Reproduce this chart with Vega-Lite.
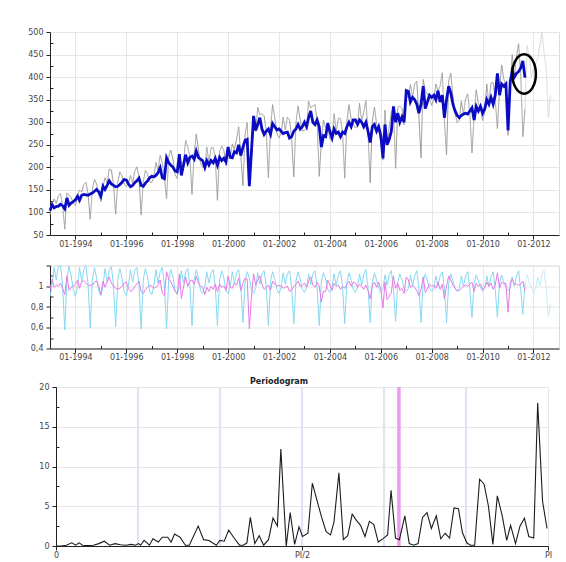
{
  "$schema": "https://vega.github.io/schema/vega-lite/v6.json",
  "padding": {"left": 27, "top": 27, "right": 0, "bottom": 0},
  "spacing": 11.5,
  "resolve": {"scale": {"color": "independent", "strokeDash": "independent"}},
  "config": {
    "font": "DejaVu Sans",
    "view": {"stroke": "#dcdcdc"},
    "axis": {
      "labelFont": "DejaVu Sans",
      "labelFontSize": 8,
      "labelColor": "#444444",
      "domainColor": "#222222",
      "tickColor": "#222222",
      "gridColor": "#e6e6e6",
      "title": null,
      "labelOverlap": false,
      "labelFlush": false
    }
  },
  "datasets": {
    "ts": [
      {"m":"1993-01","o":94,"s":104,"f":0.90,"i":0.96},{"m":"1993-02","o":119,"s":117,"f":1.02,"i":1.07},{"m":"1993-03","o":130,"s":110,"f":1.18,"i":0.99},{"m":"1993-04","o":120,"s":113,"f":1.06,"i":1.01},{"m":"1993-05","o":136,"s":114,"f":1.19,"i":1.00},{"m":"1993-06","o":142,"s":118,"f":1.20,"i":1.03},{"m":"1993-07","o":115,"s":115,"f":1.00,"i":0.98},{"m":"1993-08","o":63,"s":108,"f":0.58,"i":0.92},{"m":"1993-09","o":143,"s":132,"f":1.08,"i":1.10},{"m":"1993-10","o":138,"s":116,"f":1.19,"i":0.96},{"m":"1993-11","o":133,"s":121,"f":1.10,"i":0.99},{"m":"1993-12","o":120,"s":124,"f":0.97,"i":1.00},
      {"m":"1994-01","o":115,"s":128,"f":0.90,"i":1.02},{"m":"1994-02","o":136,"s":136,"f":1.00,"i":1.06},{"m":"1994-03","o":150,"s":127,"f":1.18,"i":0.98},{"m":"1994-04","o":145,"s":138,"f":1.05,"i":1.05},{"m":"1994-05","o":162,"s":140,"f":1.16,"i":1.05},{"m":"1994-06","o":167,"s":139,"f":1.20,"i":1.03},{"m":"1994-07","o":141,"s":138,"f":1.02,"i":1.01},{"m":"1994-08","o":85,"s":141,"f":0.60,"i":1.01},{"m":"1994-09","o":152,"s":143,"f":1.06,"i":1.01},{"m":"1994-10","o":173,"s":147,"f":1.18,"i":1.04},{"m":"1994-11","o":163,"s":151,"f":1.08,"i":1.05},{"m":"1994-12","o":139,"s":146,"f":0.95,"i":1.00},
      {"m":"1995-01","o":124,"s":136,"f":0.91,"i":0.92},{"m":"1995-02","o":158,"s":158,"f":1.00,"i":1.05},{"m":"1995-03","o":177,"s":151,"f":1.17,"i":0.99},{"m":"1995-04","o":166,"s":160,"f":1.04,"i":1.04},{"m":"1995-05","o":196,"s":170,"f":1.15,"i":1.09},{"m":"1995-06","o":194,"s":163,"f":1.19,"i":1.03},{"m":"1995-07","o":162,"s":160,"f":1.01,"i":1.00},{"m":"1995-08","o":96,"s":157,"f":0.61,"i":0.98},{"m":"1995-09","o":167,"s":158,"f":1.06,"i":0.97},{"m":"1995-10","o":190,"s":162,"f":1.17,"i":0.98},{"m":"1995-11","o":180,"s":167,"f":1.08,"i":1.00},{"m":"1995-12","o":164,"s":173,"f":0.95,"i":1.03},
      {"m":"1996-01","o":157,"s":172,"f":0.91,"i":1.04},{"m":"1996-02","o":165,"s":163,"f":1.01,"i":0.98},{"m":"1996-03","o":182,"s":157,"f":1.16,"i":0.95},{"m":"1996-04","o":166,"s":160,"f":1.04,"i":0.96},{"m":"1996-05","o":191,"s":166,"f":1.15,"i":1.00},{"m":"1996-06","o":201,"s":170,"f":1.18,"i":1.02},{"m":"1996-07","o":180,"s":176,"f":1.02,"i":1.05},{"m":"1996-08","o":94,"s":160,"f":0.59,"i":0.95},{"m":"1996-09","o":169,"s":158,"f":1.07,"i":0.93},{"m":"1996-10","o":193,"s":165,"f":1.17,"i":0.97},{"m":"1996-11","o":185,"s":170,"f":1.09,"i":0.99},{"m":"1996-12","o":168,"s":177,"f":0.95,"i":1.01},
      {"m":"1997-01","o":166,"s":180,"f":0.92,"i":1.00},{"m":"1997-02","o":181,"s":179,"f":1.01,"i":0.98},{"m":"1997-03","o":211,"s":182,"f":1.16,"i":0.99},{"m":"1997-04","o":194,"s":188,"f":1.03,"i":1.01},{"m":"1997-05","o":227,"s":199,"f":1.14,"i":1.06},{"m":"1997-06","o":209,"s":177,"f":1.18,"i":0.93},{"m":"1997-07","o":177,"s":175,"f":1.01,"i":0.91},{"m":"1997-08","o":130,"s":221,"f":0.59,"i":1.14},{"m":"1997-09","o":225,"s":210,"f":1.07,"i":1.07},{"m":"1997-10","o":238,"s":205,"f":1.16,"i":1.04},{"m":"1997-11","o":218,"s":200,"f":1.09,"i":1.00},{"m":"1997-12","o":184,"s":192,"f":0.96,"i":0.95},
      {"m":"1998-01","o":175,"s":190,"f":0.92,"i":0.93},{"m":"1998-02","o":229,"s":229,"f":1.00,"i":1.12},{"m":"1998-03","o":209,"s":182,"f":1.15,"i":0.88},{"m":"1998-04","o":211,"s":205,"f":1.03,"i":0.99},{"m":"1998-05","o":260,"s":228,"f":1.14,"i":1.09},{"m":"1998-06","o":246,"s":210,"f":1.17,"i":1.00},{"m":"1998-07","o":224,"s":222,"f":1.01,"i":1.05},{"m":"1998-08","o":140,"s":225,"f":0.62,"i":1.06},{"m":"1998-09","o":231,"s":218,"f":1.06,"i":1.02},{"m":"1998-10","o":274,"s":236,"f":1.16,"i":1.10},{"m":"1998-11","o":240,"s":222,"f":1.08,"i":1.03},{"m":"1998-12","o":209,"s":218,"f":0.96,"i":1.00},
      {"m":"1999-01","o":200,"s":215,"f":0.93,"i":0.99},{"m":"1999-02","o":200,"s":200,"f":1.00,"i":0.92},{"m":"1999-03","o":245,"s":215,"f":1.14,"i":0.99},{"m":"1999-04","o":211,"s":205,"f":1.03,"i":0.95},{"m":"1999-05","o":243,"s":215,"f":1.13,"i":1.00},{"m":"1999-06","o":244,"s":210,"f":1.16,"i":0.97},{"m":"1999-07","o":220,"s":220,"f":1.00,"i":1.02},{"m":"1999-08","o":127,"s":205,"f":0.62,"i":0.95},{"m":"1999-09","o":235,"s":222,"f":1.06,"i":1.02},{"m":"1999-10","o":247,"s":215,"f":1.15,"i":0.99},{"m":"1999-11","o":238,"s":220,"f":1.08,"i":1.00},{"m":"1999-12","o":204,"s":212,"f":0.96,"i":0.96},
      {"m":"2000-01","o":228,"s":245,"f":0.93,"i":1.10},{"m":"2000-02","o":222,"s":222,"f":1.00,"i":0.99},{"m":"2000-03","o":252,"s":221,"f":1.14,"i":0.98},{"m":"2000-04","o":240,"s":235,"f":1.02,"i":1.03},{"m":"2000-05","o":262,"s":232,"f":1.13,"i":1.01},{"m":"2000-06","o":290,"s":250,"f":1.16,"i":1.08},{"m":"2000-07","o":226,"s":226,"f":1.00,"i":0.96},{"m":"2000-08","o":159,"s":245,"f":0.65,"i":1.03},{"m":"2000-09","o":273,"s":260,"f":1.05,"i":1.08},{"m":"2000-10","o":299,"s":262,"f":1.14,"i":1.07},{"m":"2000-11","o":171,"s":158,"f":1.08,"i":0.59},{"m":"2000-12","o":226,"s":235,"f":0.96,"i":0.90},
      {"m":"2001-01","o":292,"s":314,"f":0.93,"i":1.12},{"m":"2001-02","o":279,"s":282,"f":0.99,"i":1.01},{"m":"2001-03","o":333,"s":295,"f":1.13,"i":1.06},{"m":"2001-04","o":316,"s":310,"f":1.02,"i":1.10},{"m":"2001-05","o":319,"s":285,"f":1.12,"i":1.02},{"m":"2001-06","o":314,"s":273,"f":1.15,"i":0.97},{"m":"2001-07","o":280,"s":280,"f":1.00,"i":0.99},{"m":"2001-08","o":177,"s":285,"f":0.62,"i":1.01},{"m":"2001-09","o":287,"s":273,"f":1.05,"i":0.96},{"m":"2001-10","o":339,"s":297,"f":1.14,"i":1.05},{"m":"2001-11","o":310,"s":290,"f":1.07,"i":1.02},{"m":"2001-12","o":275,"s":283,"f":0.97,"i":1.00},
      {"m":"2002-01","o":265,"s":285,"f":0.93,"i":1.01},{"m":"2002-02","o":277,"s":280,"f":0.99,"i":1.00},{"m":"2002-03","o":311,"s":275,"f":1.13,"i":0.98},{"m":"2002-04","o":283,"s":277,"f":1.02,"i":0.99},{"m":"2002-05","o":311,"s":278,"f":1.12,"i":1.00},{"m":"2002-06","o":305,"s":265,"f":1.15,"i":0.95},{"m":"2002-07","o":265,"s":268,"f":0.99,"i":0.96},{"m":"2002-08","o":179,"s":280,"f":0.64,"i":1.00},{"m":"2002-09","o":299,"s":285,"f":1.05,"i":1.02},{"m":"2002-10","o":336,"s":295,"f":1.14,"i":1.05},{"m":"2002-11","o":305,"s":285,"f":1.07,"i":1.00},{"m":"2002-12","o":281,"s":290,"f":0.97,"i":1.01},
      {"m":"2003-01","o":282,"s":300,"f":0.94,"i":1.03},{"m":"2003-02","o":287,"s":290,"f":0.99,"i":0.99},{"m":"2003-03","o":347,"s":310,"f":1.12,"i":1.05},{"m":"2003-04","o":332,"s":325,"f":1.02,"i":1.09},{"m":"2003-05","o":336,"s":300,"f":1.12,"i":1.01},{"m":"2003-06","o":339,"s":295,"f":1.15,"i":0.99},{"m":"2003-07","o":302,"s":305,"f":0.99,"i":1.04},{"m":"2003-08","o":180,"s":290,"f":0.62,"i":1.00},{"m":"2003-09","o":257,"s":245,"f":1.05,"i":0.85},{"m":"2003-10","o":305,"s":270,"f":1.13,"i":0.95},{"m":"2003-11","o":287,"s":268,"f":1.07,"i":0.95},{"m":"2003-12","o":289,"s":298,"f":0.97,"i":1.06},
      {"m":"2004-01","o":263,"s":280,"f":0.94,"i":1.01},{"m":"2004-02","o":262,"s":265,"f":0.99,"i":0.96},{"m":"2004-03","o":319,"s":285,"f":1.12,"i":1.03},{"m":"2004-04","o":278,"s":275,"f":1.01,"i":1.00},{"m":"2004-05","o":309,"s":278,"f":1.11,"i":1.01},{"m":"2004-06","o":308,"s":268,"f":1.15,"i":0.97},{"m":"2004-07","o":275,"s":278,"f":0.99,"i":1.00},{"m":"2004-08","o":176,"s":275,"f":0.64,"i":0.98},{"m":"2004-09","o":302,"s":290,"f":1.04,"i":1.02},{"m":"2004-10","o":339,"s":300,"f":1.13,"i":1.05},{"m":"2004-11","o":307,"s":290,"f":1.06,"i":1.00},{"m":"2004-12","o":296,"s":305,"f":0.97,"i":1.04},
      {"m":"2005-01","o":287,"s":305,"f":0.94,"i":1.03},{"m":"2005-02","o":292,"s":295,"f":0.99,"i":0.99},{"m":"2005-03","o":342,"s":305,"f":1.12,"i":1.02},{"m":"2005-04","o":303,"s":300,"f":1.01,"i":1.00},{"m":"2005-05","o":322,"s":290,"f":1.11,"i":0.97},{"m":"2005-06","o":348,"s":300,"f":1.16,"i":1.01},{"m":"2005-07","o":277,"s":280,"f":0.99,"i":0.96},{"m":"2005-08","o":166,"s":255,"f":0.65,"i":0.88},{"m":"2005-09","o":302,"s":290,"f":1.04,"i":1.01},{"m":"2005-10","o":333,"s":295,"f":1.13,"i":1.04},{"m":"2005-11","o":297,"s":280,"f":1.06,"i":0.99},{"m":"2005-12","o":284,"s":290,"f":0.98,"i":1.04},
      {"m":"2006-01","o":254,"s":270,"f":0.94,"i":0.97},{"m":"2006-02","o":216,"s":220,"f":0.98,"i":0.79},{"m":"2006-03","o":327,"s":295,"f":1.11,"i":1.04},{"m":"2006-04","o":252,"s":250,"f":1.01,"i":0.87},{"m":"2006-05","o":291,"s":262,"f":1.11,"i":0.90},{"m":"2006-06","o":322,"s":280,"f":1.15,"i":0.94},{"m":"2006-07","o":332,"s":335,"f":0.99,"i":1.10},{"m":"2006-08","o":198,"s":300,"f":0.66,"i":0.98},{"m":"2006-09","o":333,"s":320,"f":1.04,"i":1.03},{"m":"2006-10","o":336,"s":300,"f":1.12,"i":0.96},{"m":"2006-11","o":331,"s":312,"f":1.06,"i":0.98},{"m":"2006-12","o":294,"s":300,"f":0.98,"i":0.93},
      {"m":"2007-01","o":352,"s":370,"f":0.95,"i":1.09},{"m":"2007-02","o":361,"s":368,"f":0.98,"i":1.06},{"m":"2007-03","o":383,"s":345,"f":1.11,"i":0.99},{"m":"2007-04","o":355,"s":355,"f":1.00,"i":1.01},{"m":"2007-05","o":385,"s":350,"f":1.10,"i":0.99},{"m":"2007-06","o":391,"s":340,"f":1.15,"i":0.96},{"m":"2007-07","o":314,"s":320,"f":0.98,"i":0.91},{"m":"2007-08","o":221,"s":340,"f":0.65,"i":0.97},{"m":"2007-09","o":395,"s":380,"f":1.04,"i":1.09},{"m":"2007-10","o":370,"s":330,"f":1.12,"i":0.94},{"m":"2007-11","o":362,"s":345,"f":1.05,"i":0.98},{"m":"2007-12","o":353,"s":360,"f":0.98,"i":1.02},
      {"m":"2008-01","o":337,"s":355,"f":0.95,"i":1.00},{"m":"2008-02","o":353,"s":360,"f":0.98,"i":1.01},{"m":"2008-03","o":385,"s":350,"f":1.10,"i":0.98},{"m":"2008-04","o":370,"s":370,"f":1.00,"i":1.04},{"m":"2008-05","o":380,"s":345,"f":1.10,"i":0.97},{"m":"2008-06","o":410,"s":360,"f":1.14,"i":1.02},{"m":"2008-07","o":304,"s":310,"f":0.98,"i":0.88},{"m":"2008-08","o":228,"s":350,"f":0.65,"i":1.00},{"m":"2008-09","o":391,"s":380,"f":1.03,"i":1.10},{"m":"2008-10","o":409,"s":365,"f":1.12,"i":1.06},{"m":"2008-11","o":357,"s":340,"f":1.05,"i":1.01},{"m":"2008-12","o":319,"s":325,"f":0.98,"i":0.98},
      {"m":"2009-01","o":299,"s":315,"f":0.95,"i":0.96},{"m":"2009-02","o":304,"s":310,"f":0.98,"i":0.96},{"m":"2009-03","o":347,"s":315,"f":1.10,"i":0.98},{"m":"2009-04","o":318,"s":318,"f":1.00,"i":1.00},{"m":"2009-05","o":352,"s":320,"f":1.10,"i":1.01},{"m":"2009-06","o":363,"s":318,"f":1.14,"i":1.00},{"m":"2009-07","o":319,"s":325,"f":0.98,"i":1.02},{"m":"2009-08","o":232,"s":332,"f":0.70,"i":1.04},{"m":"2009-09","o":314,"s":305,"f":1.03,"i":0.95},{"m":"2009-10","o":372,"s":335,"f":1.11,"i":1.03},{"m":"2009-11","o":341,"s":325,"f":1.05,"i":1.00},{"m":"2009-12","o":332,"s":335,"f":0.99,"i":1.02},
      {"m":"2010-01","o":304,"s":320,"f":0.95,"i":0.97},{"m":"2010-02","o":323,"s":330,"f":0.98,"i":0.99},{"m":"2010-03","o":385,"s":350,"f":1.10,"i":1.04},{"m":"2010-04","o":340,"s":340,"f":1.00,"i":1.00},{"m":"2010-05","o":387,"s":355,"f":1.09,"i":1.03},{"m":"2010-06","o":388,"s":340,"f":1.14,"i":0.97},{"m":"2010-07","o":349,"s":360,"f":0.97,"i":1.01},{"m":"2010-08","o":286,"s":408,"f":0.70,"i":1.13},{"m":"2010-09","o":371,"s":360,"f":1.03,"i":0.98},{"m":"2010-10","o":427,"s":385,"f":1.11,"i":1.04},{"m":"2010-11","o":395,"s":380,"f":1.04,"i":1.02},{"m":"2010-12","o":381,"s":385,"f":0.99,"i":1.03},
      {"m":"2011-01","o":271,"s":282,"f":0.96,"i":0.75},{"m":"2011-02","o":382,"s":390,"f":0.98,"i":1.03},{"m":"2011-03","o":450,"s":413,"f":1.09,"i":1.07},{"m":"2011-04","o":400,"s":400,"f":1.00,"i":1.02},{"m":"2011-05","o":445,"s":408,"f":1.09,"i":1.02},{"m":"2011-06","o":474,"s":412,"f":1.15,"i":1.01},{"m":"2011-07","o":407,"s":420,"f":0.97,"i":1.02},{"m":"2011-08","o":268,"s":436,"f":0.73,"i":1.05},{"m":"2011-09","o":329,"s":399,"f":1.02,"i":0.95,"fo":329,"ff":1.02},
      {"m":"2011-10","fo":470,"ff":1.11,"tf":418},{"m":"2011-11","fo":445,"ff":1.04},{"m":"2011-12","fo":400,"ff":0.99},
      {"m":"2012-01","fo":420,"ff":0.93},{"m":"2012-02","fo":430,"ff":0.98},{"m":"2012-03","fo":440,"ff":1.09},{"m":"2012-04","fo":470,"ff":1.00},{"m":"2012-05","fo":500,"ff":1.12},{"m":"2012-06","fo":455,"ff":1.15},{"m":"2012-07","fo":420,"ff":0.97},{"m":"2012-08","fo":310,"ff":0.71},{"m":"2012-09","fo":360,"ff":0.82},{"m":"2012-10","tf":441}
    ],
    "pg": [
      {"w":0,"p":0},{"w":0.010,"p":0},{"w":0.021,"p":0.1},{"w":0.032,"p":0.4},{"w":0.040,"p":0.1},{"w":0.047,"p":0.4},{"w":0.054,"p":0.1},{"w":0.065,"p":0.05},{"w":0.076,"p":0.1},{"w":0.087,"p":0.3},{"w":0.098,"p":0.6},{"w":0.109,"p":0.1},{"w":0.120,"p":0.3},{"w":0.131,"p":0.15},{"w":0.142,"p":0.1},{"w":0.153,"p":0.2},{"w":0.161,"p":0.1},{"w":0.168,"p":0.3},{"w":0.172,"p":0.1},{"w":0.179,"p":0.7},{"w":0.190,"p":0.1},{"w":0.197,"p":0.9},{"w":0.208,"p":0.5},{"w":0.216,"p":1.1},{"w":0.227,"p":1.1},{"w":0.234,"p":0.5},{"w":0.241,"p":1.5},{"w":0.252,"p":1.1},{"w":0.263,"p":0.1},{"w":0.271,"p":0.1},{"w":0.289,"p":2.5},{"w":0.300,"p":0.8},{"w":0.311,"p":0.7},{"w":0.318,"p":0.4},{"w":0.326,"p":0.1},{"w":0.333,"p":0.7},{"w":0.342,"p":0.6},{"w":0.351,"p":2.0},{"w":0.362,"p":1.0},{"w":0.373,"p":0.1},{"w":0.381,"p":0.1},{"w":0.388,"p":0.4},{"w":0.395,"p":3.6},{"w":0.404,"p":0.3},{"w":0.413,"p":1.3},{"w":0.422,"p":0.1},{"w":0.432,"p":0.8},{"w":0.441,"p":3.5},{"w":0.450,"p":2.5},{"w":0.457,"p":12.2},{"w":0.468,"p":0},{"w":0.476,"p":4.2},{"w":0.485,"p":0.2},{"w":0.494,"p":2.4},{"w":0.501,"p":1.2},{"w":0.512,"p":1.6},{"w":0.521,"p":7.9},{"w":0.531,"p":5.6},{"w":0.540,"p":3.6},{"w":0.549,"p":1.8},{"w":0.558,"p":1.4},{"w":0.565,"p":3.0},{"w":0.575,"p":9.2},{"w":0.584,"p":0.8},{"w":0.593,"p":1.3},{"w":0.602,"p":4.0},{"w":0.611,"p":3.2},{"w":0.619,"p":2.6},{"w":0.628,"p":1.2},{"w":0.637,"p":3.1},{"w":0.646,"p":2.7},{"w":0.655,"p":0.5},{"w":0.664,"p":0.9},{"w":0.674,"p":1.4},{"w":0.681,"p":7.0},{"w":0.690,"p":1.0},{"w":0.698,"p":0.8},{"w":0.709,"p":3.8},{"w":0.718,"p":0.3},{"w":0.727,"p":0.1},{"w":0.736,"p":0.3},{"w":0.745,"p":3.6},{"w":0.754,"p":4.2},{"w":0.763,"p":2.2},{"w":0.773,"p":3.8},{"w":0.782,"p":0.9},{"w":0.791,"p":1.6},{"w":0.800,"p":1.0},{"w":0.809,"p":4.8},{"w":0.818,"p":4.7},{"w":0.826,"p":1.7},{"w":0.835,"p":0.4},{"w":0.842,"p":0.1},{"w":0.851,"p":0.1},{"w":0.861,"p":8.4},{"w":0.870,"p":7.8},{"w":0.879,"p":5.0},{"w":0.888,"p":0.2},{"w":0.897,"p":6.3},{"w":0.907,"p":3.8},{"w":0.916,"p":0.7},{"w":0.924,"p":2.6},{"w":0.934,"p":0.3},{"w":0.943,"p":2.5},{"w":0.952,"p":3.5},{"w":0.961,"p":1.2},{"w":0.971,"p":1.0},{"w":0.979,"p":18.0},{"w":0.989,"p":5.6},{"w":0.998,"p":2.2}
    ],
    "freq": [
      {"w":0.1667,"k":"seasonal"},{"w":0.3333,"k":"seasonal"},{"w":0.5,"k":"seasonal"},{"w":0.6667,"k":"seasonal"},{"w":0.8333,"k":"seasonal"},{"w":0.697,"k":"trading day"}
    ]
  },
  "vconcat": [
    {
      "width": 509,
      "height": 203,
      "encoding": {
        "x": {
          "field": "m", "type": "temporal",
          "scale": {"domain": [{"year":1993,"month":1,"date":1},{"year":2013,"month":1,"date":1}]},
          "axis": {
            "values": [{"year":1994},{"year":1995},{"year":1996},{"year":1997},{"year":1998},{"year":1999},{"year":2000},{"year":2001},{"year":2002},{"year":2003},{"year":2004},{"year":2005},{"year":2006},{"year":2007},{"year":2008},{"year":2009},{"year":2010},{"year":2011},{"year":2012}],
            "labelExpr": "year(datum.value) % 2 == 0 ? timeFormat(datum.value, '%m-%Y') : ''",
            "tickSize": {"condition": {"test": "year(datum.value) % 2 == 1", "value": -3}, "value": 4},
            "gridOpacity": {"condition": {"test": "year(datum.value) % 2 == 1", "value": 0}, "value": 1},
            "grid": true,
            "labelOverlap": false,
            "labelPadding": 1
          }
        },
        "y": {
          "field": "val", "type": "quantitative",
          "scale": {"domain": [50, 500], "nice": false, "zero": false},
          "axis": {
            "values": [50,75,100,125,150,175,200,225,250,275,300,325,350,375,400,425,450,475,500],
            "labelExpr": "datum.value % 50 == 0 ? datum.label : ''",
            "tickSize": {"condition": {"test": "datum.value % 50 != 0", "value": -3}, "value": 4},
            "gridOpacity": {"condition": {"test": "datum.value % 50 != 0", "value": 0}, "value": 1},
            "grid": true,
            "labelOverlap": false,
            "labelPadding": 3
          }
        }
      },
      "layer": [
        {
          "data": {"name": "ts"},
          "transform": [{"fold": ["o", "fo", "tf"], "as": ["series", "val"]}],
          "mark": {"type": "line", "strokeWidth": 1},
          "encoding": {
            "color": {
              "field": "series", "type": "nominal",
              "scale": {"domain": ["o", "fo", "tf"], "range": ["#9a9a9a", "#d9d9d9", "#f08a8a"]},
              "legend": null
            },
            "strokeDash": {
              "field": "series", "type": "nominal",
              "scale": {"domain": ["o", "fo", "tf"], "range": [[1, 0], [1, 0], [3, 2]]},
              "legend": null
            }
          }
        },
        {
          "data": {"name": "ts"},
          "transform": [{"fold": ["s"], "as": ["series", "val"]}],
          "mark": {"type": "line", "color": "#0b0bc4", "strokeWidth": 2.8}
        },
        {
          "data": {"values": [{"m": "2011-08-19", "val": 407}]},
          "mark": {
            "type": "point",
            "shape": "M -0.6 0 A 0.6 1 0 1 1 0.6 0 A 0.6 1 0 1 1 -0.6 0 Z",
            "size": 1550,
            "filled": false,
            "stroke": "#000000",
            "strokeWidth": 2.5,
            "opacity": 1
          }
        }
      ]
    },
    {
      "width": 509,
      "height": 83,
      "data": {"name": "ts"},
      "transform": [{"fold": ["f", "ff", "i"], "as": ["series", "val"]}],
      "mark": {"type": "line", "strokeWidth": 1, "clip": true},
      "encoding": {
        "x": {
          "field": "m", "type": "temporal",
          "scale": {"domain": [{"year":1993,"month":1,"date":1},{"year":2013,"month":1,"date":1}]},
          "axis": {
            "values": [{"year":1994},{"year":1995},{"year":1996},{"year":1997},{"year":1998},{"year":1999},{"year":2000},{"year":2001},{"year":2002},{"year":2003},{"year":2004},{"year":2005},{"year":2006},{"year":2007},{"year":2008},{"year":2009},{"year":2010},{"year":2011},{"year":2012}],
            "labelExpr": "year(datum.value) % 2 == 0 ? timeFormat(datum.value, '%m-%Y') : ''",
            "tickSize": {"condition": {"test": "year(datum.value) % 2 == 1", "value": -3}, "value": 4},
            "gridOpacity": {"condition": {"test": "year(datum.value) % 2 == 1", "value": 0}, "value": 1},
            "grid": true,
            "labelOverlap": false,
            "labelPadding": 1,
            "minExtent": 17
          }
        },
        "y": {
          "field": "val", "type": "quantitative",
          "scale": {"domain": [0.4, 1.2], "nice": false, "zero": false},
          "axis": {
            "values": [0.4,0.5,0.6,0.7,0.8,0.9,1.0,1.1,1.2],
            "labelExpr": "round(datum.value * 10) % 2 == 0 && datum.value < 1.15 ? replace(format(datum.value, '.1~f'), '.', ',') : ''",
            "tickSize": {"condition": {"test": "round(datum.value * 10) % 2 == 1", "value": -3}, "value": 4},
            "gridOpacity": {"condition": {"test": "round(datum.value * 10) % 2 == 1", "value": 0}, "value": 1},
            "grid": true,
            "labelOverlap": false,
            "labelPadding": 3
          }
        },
        "color": {
          "field": "series", "type": "nominal",
          "scale": {"domain": ["f", "ff", "i"], "range": ["#86d8f2", "#c6ecf8", "#e67ae6"]},
          "legend": null
        }
      }
    },
    {
      "width": 498,
      "height": 159,
      "view": {"stroke": null},
      "title": {
        "text": "Periodogram",
        "fontSize": 8,
        "fontWeight": "bold",
        "color": "#222222",
        "frame": "group",
        "anchor": "middle",
        "offset": -3,
        "dx": -20
      },
      "encoding": {
        "x": {
          "field": "w", "type": "quantitative",
          "scale": {"domain": [0, 1], "range": [6, 498], "nice": false, "zero": false},
          "axis": {
            "values": [0, 0.5, 1],
            "labelExpr": "datum.value == 0 ? '0' : datum.value == 1 ? 'PI' : 'PI/2'",
            "tickSize": 4,
            "grid": true,
            "labelOverlap": false,
            "labelPadding": 1
          }
        }
      },
      "layer": [
        {
          "data": {"name": "freq"},
          "transform": [{"filter": "datum.k == 'seasonal'"}],
          "mark": {"type": "rule", "color": "#e2e2f4", "strokeWidth": 2.2}
        },
        {
          "data": {"name": "freq"},
          "transform": [{"filter": "datum.k == 'trading day'"}],
          "mark": {"type": "rule", "color": "#ef9bef", "strokeWidth": 3.5}
        },
        {
          "data": {"name": "pg"},
          "mark": {"type": "line", "color": "#1c1c1c", "strokeWidth": 1.1},
          "encoding": {
            "y": {
              "field": "p", "type": "quantitative",
              "scale": {"domain": [0, 20], "nice": false},
              "axis": {
                "values": [0,2.5,5,7.5,10,12.5,15,17.5,20],
                "labelExpr": "datum.value % 5 == 0 ? datum.label : ''",
                "tickSize": {"condition": {"test": "datum.value % 5 != 0", "value": -3}, "value": 4},
                "gridOpacity": {"condition": {"test": "datum.value % 5 != 0", "value": 0}, "value": 1},
                "grid": true,
                "labelOverlap": false,
                "offset": -6,
                "labelPadding": 3
              }
            }
          }
        }
      ]
    }
  ]
}
